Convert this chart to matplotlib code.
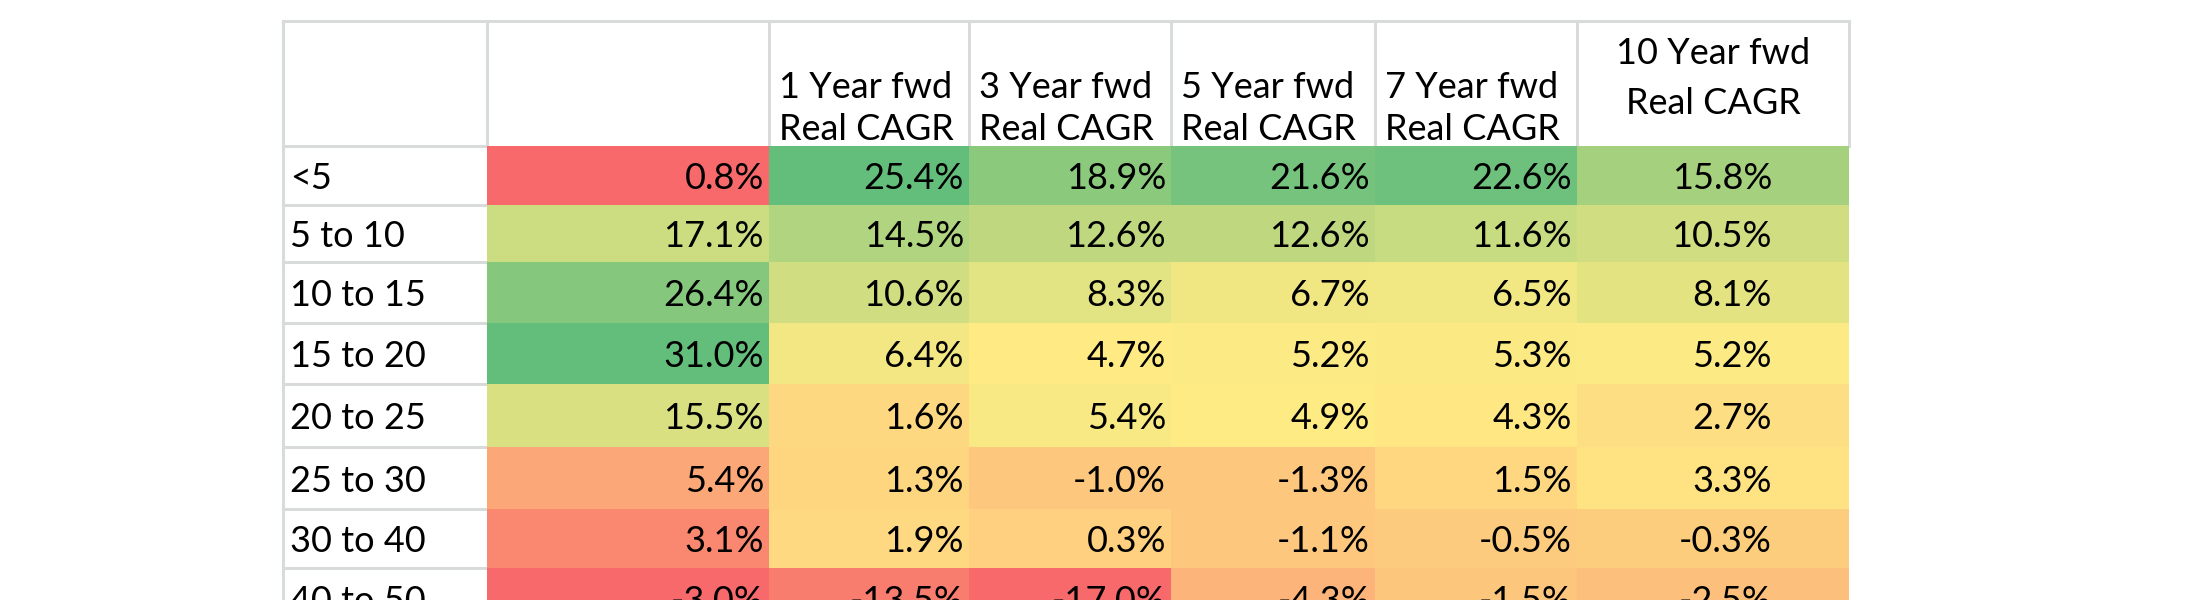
import numpy as np
import matplotlib.pyplot as plt
from matplotlib.colors import LinearSegmentedColormap, TwoSlopeNorm

plt.rcParams['font.family'] = ['Lato', 'DejaVu Sans']

# table data (last row is cut off in the source screenshot)
row_labels = ['<5', '5 to 10', '10 to 15', '15 to 20', '20 to 25', '25 to 30', '30 to 40', '40 to 50']
col_headers = ['', '1 Year fwd\nReal CAGR', '3 Year fwd\nReal CAGR', '5 Year fwd\nReal CAGR',
               '7 Year fwd\nReal CAGR', '10 Year fwd\nReal CAGR']

col_first = [0.8, 17.1, 26.4, 31.0, 15.5, 5.4, 3.1, -3.0]
fwd_1y = [25.4, 14.5, 10.6, 6.4, 1.6, 1.3, 1.9, -13.5]
fwd_3y = [18.9, 12.6, 8.3, 4.7, 5.4, -1.0, 0.3, -17.0]
fwd_5y = [21.6, 12.6, 6.7, 5.2, 4.9, -1.3, -1.1, -4.3]
fwd_7y = [22.6, 11.6, 6.5, 5.3, 4.3, 1.5, -0.5, -1.5]
fwd_10y = [15.8, 10.5, 8.1, 5.2, 2.7, 3.3, -0.3, -2.5]

vals = np.column_stack([col_first, fwd_1y, fwd_3y, fwd_5y, fwd_7y, fwd_10y])

# excel style 3-colour scale
cmap = LinearSegmentedColormap.from_list('excel', ['#F8696B', '#FFEB84', '#63BE7B'])
norm_first = TwoSlopeNorm(vmin=0.8, vcenter=10.45, vmax=31.0)
norm_fwd = TwoSlopeNorm(vmin=-17.0, vcenter=4.8, vmax=24.0)
norms = [norm_first] + [norm_fwd] * 5

# layout in pixels
col_edges = [283, 487, 769, 969, 1171, 1375, 1577, 1849]
row_edges = [21, 146, 205, 262, 323, 384, 447, 509, 568, 628]
grid_c = '#D9DBDB'
fs = 26

fig = plt.figure(figsize=(22, 6), dpi=100)
ax = fig.add_axes([0, 0, 1, 1])
ax.set_xlim(0, 2200)
ax.set_ylim(600, 0)
ax.axis('off')

# grid lines (header + label column)
lw = 2.2
ax.plot([col_edges[0], col_edges[-1]], [row_edges[0]] * 2, color=grid_c, lw=lw, zorder=1)
for x in col_edges:
    ax.plot([x, x], [row_edges[0], row_edges[1]], color=grid_c, lw=lw, zorder=1)
ax.plot([col_edges[0]] * 2, [row_edges[0], 600], color=grid_c, lw=lw, zorder=1)
for y in row_edges[1:]:
    ax.plot([col_edges[0], col_edges[1]], [y, y], color=grid_c, lw=lw, zorder=1)

# coloured cells
for j in range(vals.shape[1]):
    ax.pcolormesh(col_edges[j + 1:j + 3], row_edges[1:], vals[:, j:j + 1],
                  cmap=cmap, norm=norms[j], shading='flat', zorder=2)

# row labels + values
for i, lab in enumerate(row_labels):
    yc = (row_edges[i + 1] + row_edges[i + 2]) / 2 + 3
    ax.text(col_edges[0] + 7, yc, lab, ha='left', va='center', fontsize=fs, zorder=3)
    for j in range(vals.shape[1]):
        if j < 5:
            x = col_edges[j + 2] - 5
        else:
            x = 1772
        ax.text(x, yc, f'{vals[i, j]:.1f}%', ha='right', va='center', fontsize=fs, zorder=3)

# headers
for j, h in enumerate(col_headers):
    if not h:
        continue
    l1, l2 = h.split('\n')
    if j < 5:
        x0 = col_edges[j + 1] + 10
        ax.text(x0, 88, l1, ha='left', va='center', fontsize=fs, zorder=3)
        ax.text(x0, 130, l2, ha='left', va='center', fontsize=fs, zorder=3)
    else:
        xc = (col_edges[j + 1] + col_edges[j + 2]) / 2
        ax.text(xc, 53, l1, ha='center', va='center', fontsize=fs, zorder=3)
        ax.text(xc, 103, l2, ha='center', va='center', fontsize=fs, zorder=3)

plt.savefig('out.png', dpi=100)
